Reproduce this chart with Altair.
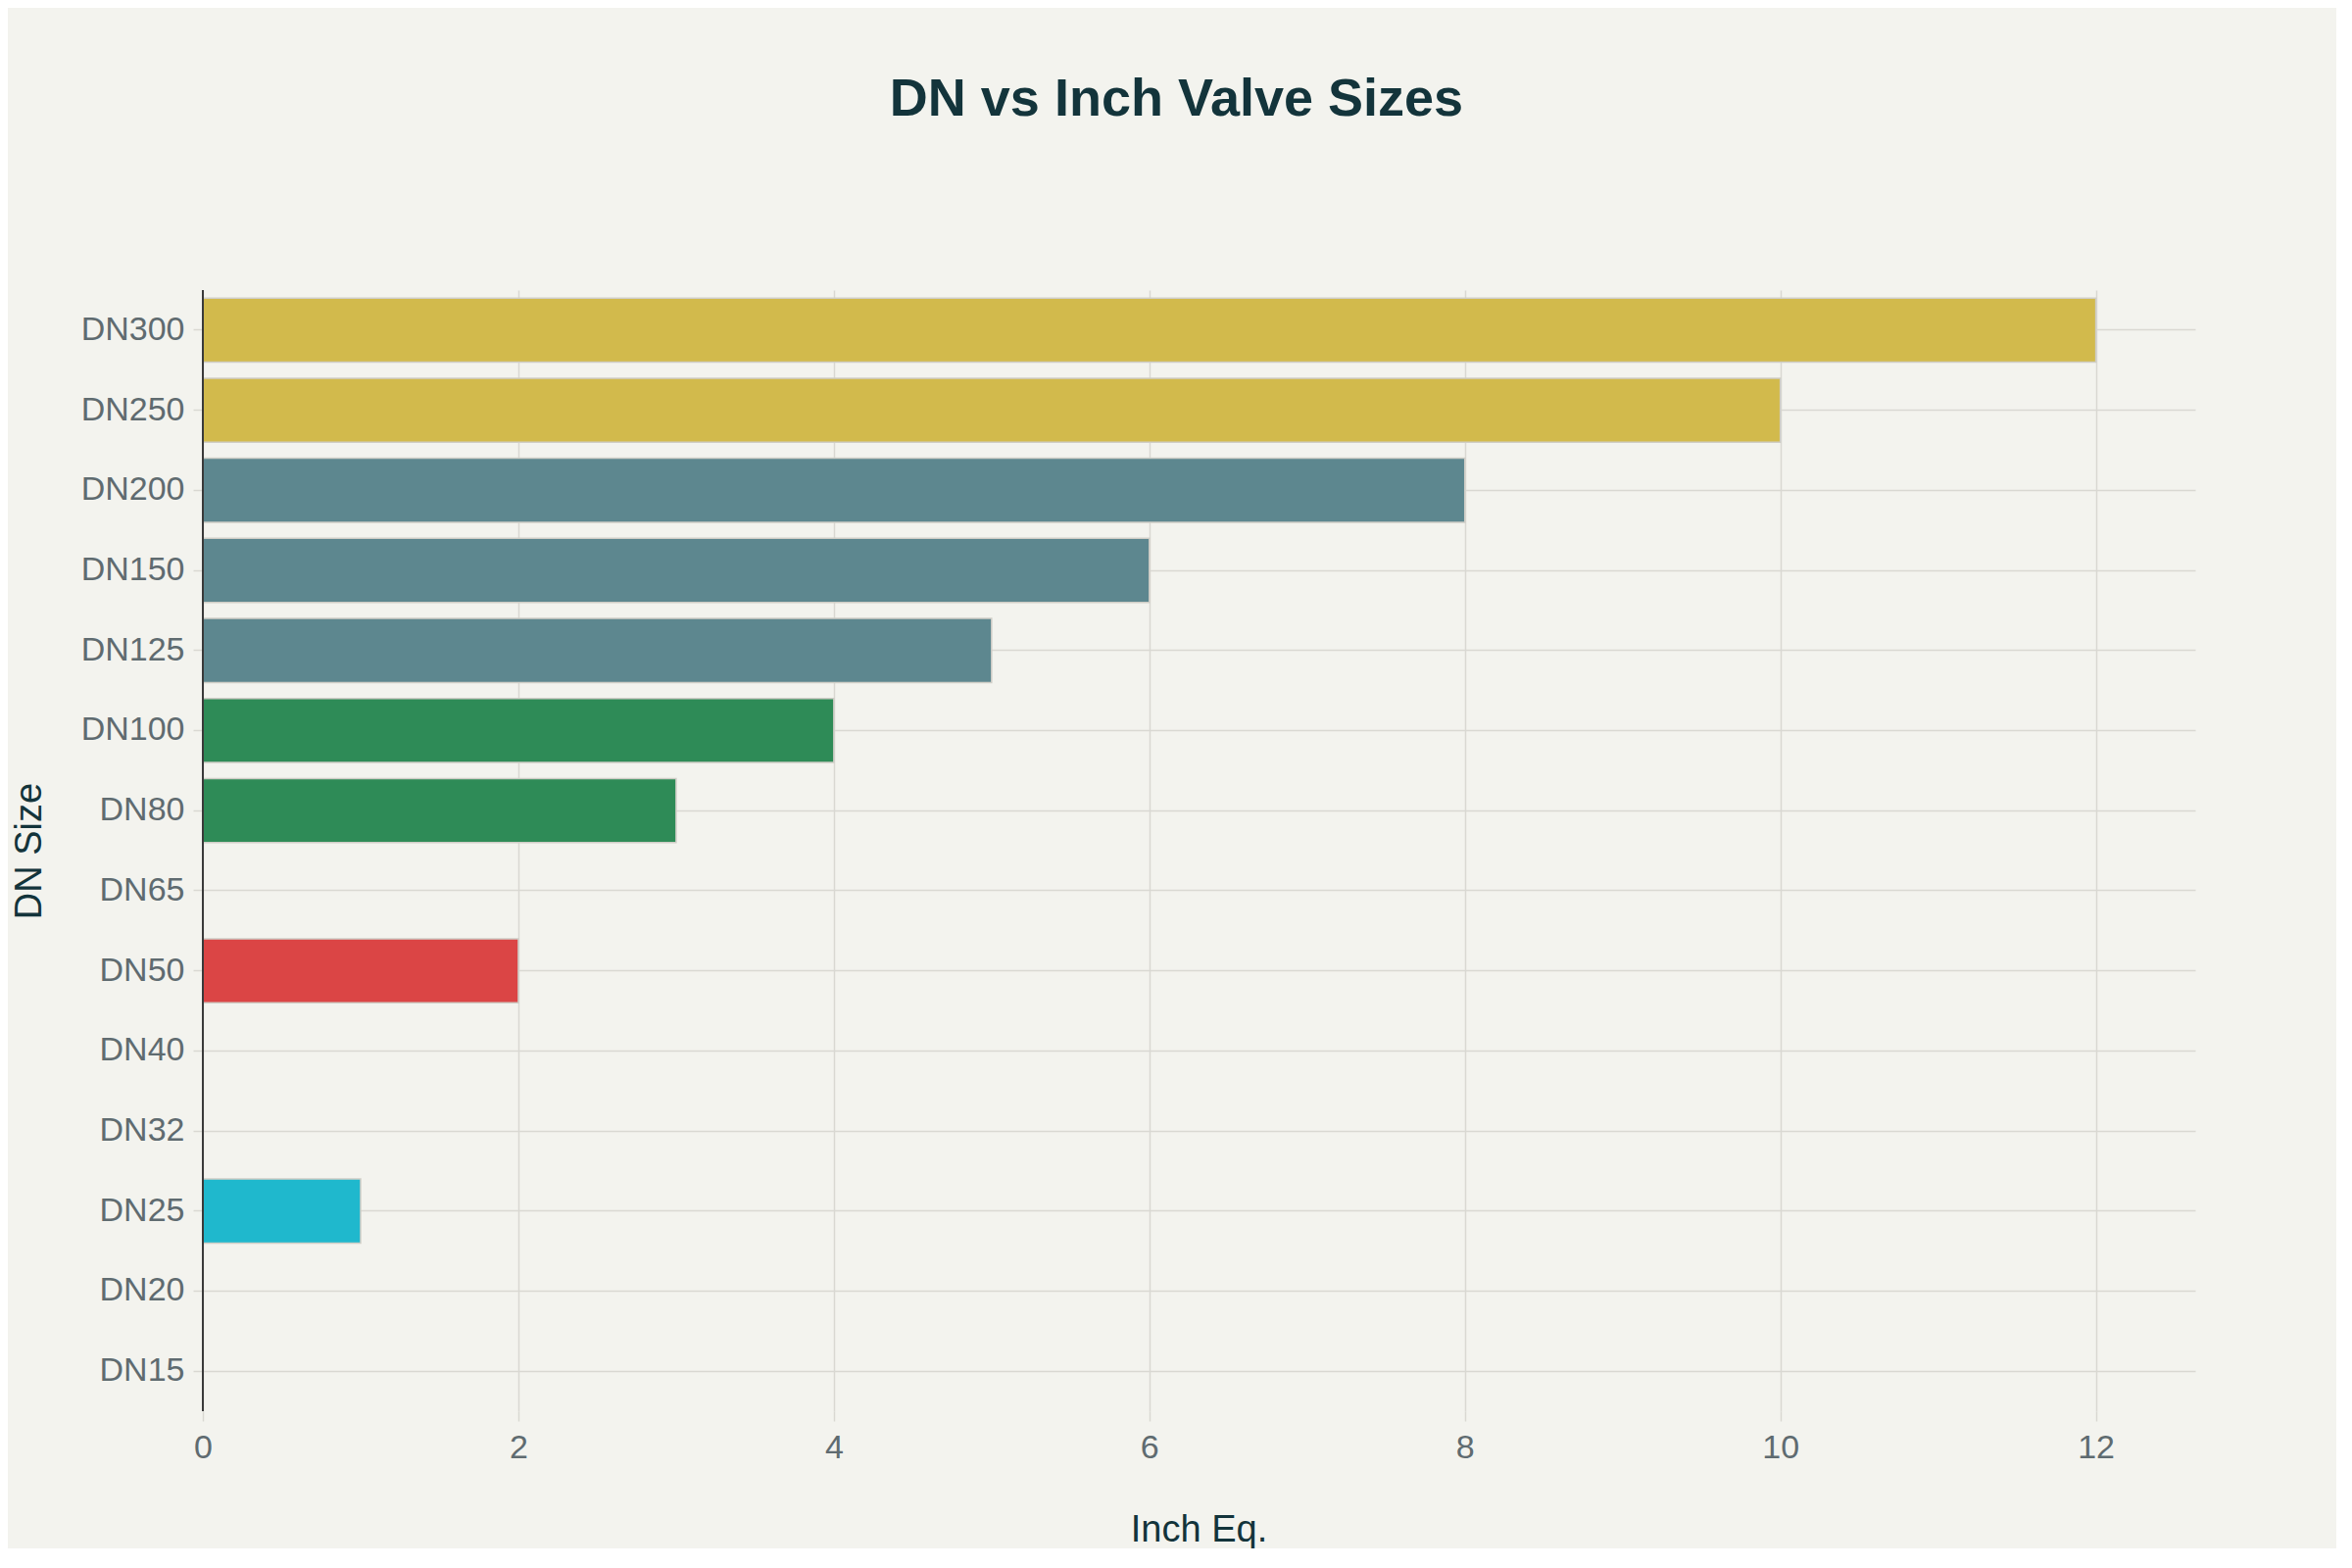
import altair as alt
import pandas as pd

dn_sizes = ["DN15", "DN20", "DN25", "DN32", "DN40", "DN50", "DN65",
            "DN80", "DN100", "DN125", "DN150", "DN200", "DN250", "DN300"]
inch_eq = [None, None, 1, None, None, 2, None, 3, 4, 5, 6, 8, 10, 12]
size_group = ["Small", "Small", "Small", "Medium", "Medium", "Medium", "Large",
              "Large", "Large", "XLarge", "XLarge", "XLarge", "XXLarge", "XXLarge"]

group_names = ["Small", "Medium", "Large", "XLarge", "XXLarge"]
group_colors = ["#1FB8CD", "#DB4545", "#2E8B57", "#5D878F", "#D2BA4C"]

df = pd.DataFrame({"dn": dn_sizes, "inch": inch_eq, "grp": size_group})

order_top_down = list(reversed(dn_sizes))

FONT = "Liberation Sans"

x_axis = alt.Axis(
    values=[0, 2, 4, 6, 8, 10, 12],
    format="d",
    title="Inch Eq.",
    titleX=1016,
    titleY=121,
    titleBaseline="middle",
    titleAlign="center",
    domain=False,
    labelPadding=10,
    labelFlush=False,
    grid=True,
)
x_scale = alt.Scale(domain=[0, 12.63], nice=False, zero=True)

bars = (
    alt.Chart(df)
    .mark_bar(stroke="#cfcdc6", strokeWidth=1.5)
    .encode(
        x=alt.X("inch:Q", scale=x_scale, axis=x_axis),
        y=alt.Y(
            "dn:N",
            sort=order_top_down,
            scale=alt.Scale(domain=order_top_down, paddingInner=0.2, paddingOuter=0.1),
            axis=alt.Axis(
                title="DN Size",
                titleX=-177,
                titleY=572,
                titleBaseline="middle",
                titleAlign="center",
                titleAngle=270,
                bandPosition=0.5,
                grid=True,
                domain=False,
                labelPadding=9,
            ),
        ),
        color=alt.Color(
            "grp:N",
            scale=alt.Scale(domain=group_names, range=group_colors),
            legend=None,
        ),
    )
)

zero_line = (
    alt.Chart(pd.DataFrame({"x0": [0]}))
    .mark_rule(color="#3a3a3a", strokeWidth=2)
    .encode(x=alt.X("x0:Q", scale=x_scale, axis=x_axis))
)

chart = (
    alt.layer(bars, zero_line)
    .properties(
        width=2033,
        height=1144,
        autosize=alt.AutoSizeParams(type="none"),
        padding={"left": 199, "top": 288, "right": 144, "bottom": 140},
        background="#F3F3EE",
        title=alt.Title(
            "DN vs Inch Valve Sizes",
            fontSize=54,
            fontWeight="bold",
            color="#13343B",
            font=FONT,
            anchor="middle",
            dx=-23,
            offset=139,
            baseline="middle",
        ),
    )
    .configure_view(stroke=None)
    .configure_axis(
        labelFont=FONT,
        labelFontSize=34,
        labelColor="#5f6b70",
        titleFont=FONT,
        titleFontSize=38,
        titleFontWeight="normal",
        titleColor="#13343B",
        gridColor="#d9d8d2",
        gridWidth=1.5,
        tickColor="#d9d8d2",
        tickSize=10,
        tickWidth=1.5,
    )
)

chart.save("out.html", embed_options={"renderer": "svg", "actions": False})
